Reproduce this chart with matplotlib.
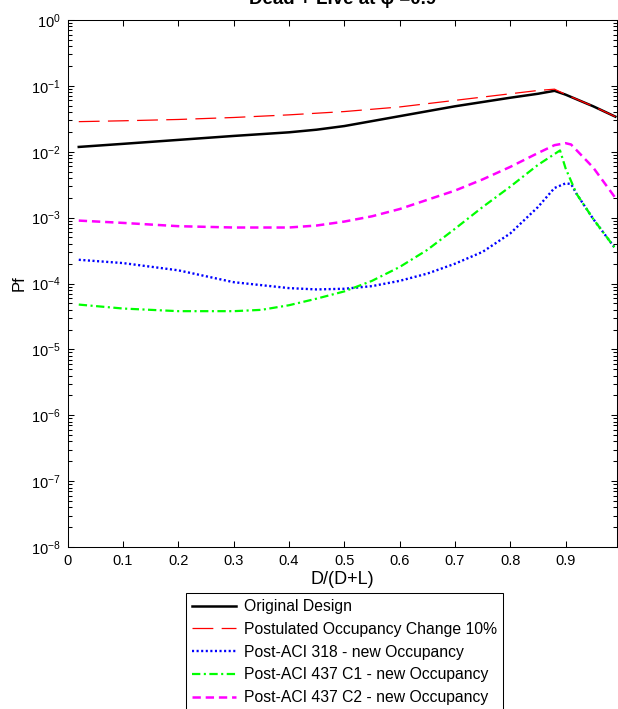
import numpy as np
import matplotlib
matplotlib.use("Agg")
import matplotlib.pyplot as plt
from matplotlib.ticker import LogLocator, FixedLocator, FixedFormatter, NullFormatter

plt.rcParams['font.family'] = ['Liberation Sans', 'DejaVu Sans']
plt.rcParams['mathtext.fontset'] = 'custom'
plt.rcParams['mathtext.rm'] = 'Liberation Sans'
plt.rcParams['mathtext.it'] = 'Liberation Sans:italic'
plt.rcParams['mathtext.bf'] = 'Liberation Sans:bold'
plt.rcParams['axes.unicode_minus'] = False
plt.rcParams['lines.scale_dashes'] = False

# Probability of failure vs dead-load ratio, stored as log10(Pf)
x_orig = [0.02, 0.1, 0.2, 0.3, 0.4, 0.45, 0.5, 0.6, 0.7, 0.8, 0.85, 0.88, 0.9, 0.95, 0.99]
log_pf_orig = [-1.927, -1.88, -1.82, -1.76, -1.705, -1.665, -1.61, -1.46, -1.31, -1.18,
               -1.12, -1.075, -1.133, -1.31, -1.467]

x_post = [0.02, 0.1, 0.2, 0.3, 0.4, 0.5, 0.6, 0.7, 0.8, 0.85, 0.88, 0.9, 0.95, 0.99]
log_pf_post = [-1.543, -1.53, -1.51, -1.48, -1.44, -1.39, -1.32, -1.22, -1.12, -1.07,
               -1.05, -1.13, -1.31, -1.467]

x_318 = [0.02, 0.1, 0.2, 0.3, 0.4, 0.45, 0.5, 0.55, 0.6, 0.65, 0.7, 0.75, 0.8, 0.85,
         0.88, 0.9, 0.91, 0.92, 0.95, 0.99]
log_pf_318 = [-3.64, -3.69, -3.80, -3.98, -4.07, -4.09, -4.08, -4.04, -3.96, -3.85,
              -3.70, -3.52, -3.24, -2.84, -2.55, -2.48, -2.49, -2.64, -3.02, -3.47]

x_c1 = [0.02, 0.1, 0.2, 0.3, 0.35, 0.4, 0.45, 0.5, 0.55, 0.6, 0.65, 0.7, 0.75, 0.8,
        0.85, 0.89, 0.9, 0.92, 0.95, 0.99]
log_pf_c1 = [-4.32, -4.38, -4.42, -4.42, -4.40, -4.33, -4.23, -4.12, -3.96, -3.75,
             -3.49, -3.17, -2.84, -2.53, -2.20, -1.98, -2.25, -2.64, -3.02, -3.47]

x_c2 = [0.02, 0.1, 0.2, 0.3, 0.4, 0.45, 0.5, 0.55, 0.6, 0.65, 0.7, 0.75, 0.8, 0.85,
        0.88, 0.9, 0.91, 0.95, 0.99]
log_pf_c2 = [-3.045, -3.08, -3.13, -3.15, -3.15, -3.12, -3.06, -2.98, -2.87, -2.73,
             -2.59, -2.42, -2.23, -2.02, -1.90, -1.87, -1.89, -2.24, -2.70]

labels = ['Original Design',
          'Postulated Occupancy Change 10%',
          'Post-ACI 318 - new Occupancy',
          'Post-ACI 437 C1 - new Occupancy',
          'Post-ACI 437 C2 - new Occupancy']

x_ticks = [0, 0.1, 0.2, 0.3, 0.4, 0.5, 0.6, 0.7, 0.8, 0.9]
x_tick_labels = ['0', '0.1', '0.2', '0.3', '0.4', '0.5', '0.6', '0.7', '0.8', '0.9']

W, H = 618, 709
fig = plt.figure(figsize=(W / 100, H / 100), dpi=100)
ax = fig.add_axes([67.7 / W, 1 - 547 / H, (617 - 67.7) / W, (547 - 20) / H])

def pf(v):
    return 10.0 ** np.asarray(v)

ax.plot(x_orig, pf(log_pf_orig), color='black', lw=1.8, label=labels[0])
ax.plot(x_post, pf(log_pf_post), color='red', lw=0.9, dashes=(15, 6), label=labels[1])
ax.plot(x_318, pf(log_pf_318), color='blue', lw=1.7, dashes=(1.5, 1.8), label=labels[2])
ax.plot(x_c1, pf(log_pf_c1), color='#00ff00', lw=1.6, dashes=(6, 2.5, 1.5, 2.5), label=labels[3])
ax.plot(x_c2, pf(log_pf_c2), color='magenta', lw=1.8, dashes=(6, 3.5), label=labels[4])

ax.set_yscale('log')
ax.set_ylim(1e-8, 1)
ax.set_xlim(0, 0.993)
ax.yaxis.set_major_locator(LogLocator(base=10, numticks=20))
ax.yaxis.set_minor_locator(LogLocator(base=10, subs=np.arange(2, 10), numticks=20))
ax.yaxis.set_minor_formatter(NullFormatter())
ax.xaxis.set_major_locator(FixedLocator(x_ticks))
ax.xaxis.set_major_formatter(FixedFormatter(x_tick_labels))

ax.tick_params(which='both', direction='in', top=True, right=True, width=0.75, colors='black')
ax.tick_params(which='major', length=4.5, labelsize=10.5, pad=5)
ax.tick_params(which='minor', length=3)
for s in ax.spines.values():
    s.set_linewidth(0.75)

ax.set_xlabel('D/(D+L)', fontsize=13, labelpad=2)
ax.set_ylabel('Pf', fontsize=12, labelpad=3)

fig.text((67.7 + 617) / 2 / W, 1 - 4.5 / H, 'Dead + Live at \u03c6 =0.9',
         ha='center', va='baseline', fontsize=13.5, fontweight='bold')

leg = ax.legend(loc='upper left', bbox_to_anchor=(186 / W, 1 - 593 / H),
                bbox_transform=fig.transFigure, fontsize=11.3, frameon=True,
                fancybox=False, shadow=False, framealpha=1, edgecolor='black',
                handlelength=2.8, handletextpad=0.5, labelspacing=0.49,
                borderpad=0.4, borderaxespad=0)
leg.get_frame().set_linewidth(0.75)

fig.savefig('out.png', dpi=100)
